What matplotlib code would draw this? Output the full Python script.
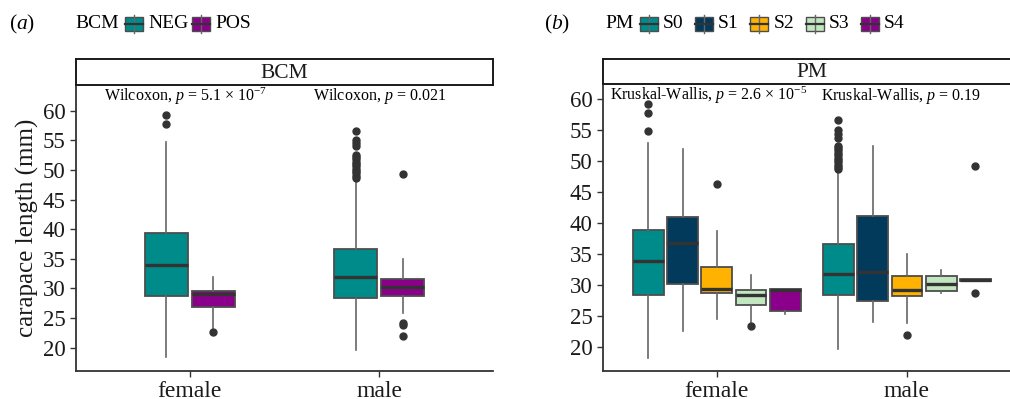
import matplotlib
matplotlib.use("Agg")
import matplotlib.pyplot as plt
from matplotlib.patches import Rectangle

plt.rcParams["font.family"] = ["Liberation Serif", "DejaVu Serif"]
plt.rcParams["mathtext.fontset"] = "custom"
plt.rcParams["mathtext.rm"] = "Liberation Serif"
plt.rcParams["mathtext.it"] = "Liberation Serif:italic"

W, H = 1010, 399

# ---------------- data ----------------
sexes = ["female", "male"]

bcm_levels = ["NEG", "POS"]
bcm_colors = ["#008b8b", "#8b008b"]
# [level][sex]
bcm_whislo = [[18.4, 19.6], [23.3, 25.8]]
bcm_q1 = [[28.7, 28.4], [26.8, 28.7]]
bcm_med = [[34.0, 31.9], [29.05, 30.2]]
bcm_q3 = [[39.3, 36.6], [29.5, 31.6]]
bcm_whishi = [[54.7, 48.5], [31.9, 35.0]]
bcm_fliers = [
    [[57.7, 59.3],
     [48.7, 49.0, 49.4, 49.8, 50.2, 50.6, 51.0, 51.4, 51.8, 52.2, 52.5, 54.1, 54.6, 55.1, 56.6]],
    [[22.7], [22.0, 23.8, 24.1, 49.3]],
]
bcm_tests = [r"Wilcoxon, $p$ = 5.1 × 10$^{-7}$", r"Wilcoxon, $p$ = 0.021"]

pm_levels = ["S0", "S1", "S2", "S3", "S4"]
pm_colors = ["#008b8b", "#023a5c", "#ffb300", "#c2e6c0", "#8b008b"]
pm_whislo = [[18.3, 19.7], [22.7, 24.1], [24.5, 23.9], [24.1, 28.7], [25.35, 30.9]]
pm_q1 = [[28.4, 28.4], [30.2, 27.5], [28.7, 28.3], [26.9, 29.1], [25.8, 30.75]]
pm_med = [[33.85, 31.8], [36.75, 32.2], [29.35, 29.2], [28.5, 30.2], [29.3, 30.9]]
pm_q3 = [[38.9, 36.6], [41.0, 41.25], [32.9, 31.55], [29.25, 31.55], [29.4, 31.0]]
pm_whishi = [[52.9, 48.5], [51.9, 52.5], [38.8, 35.0], [31.6, 32.4], [29.4, 31.0]]
pm_fliers = [
    [[54.8, 57.7, 59.3],
     [48.7, 49.0, 49.4, 49.8, 50.2, 50.6, 51.0, 51.4, 51.8, 52.2, 52.4, 53.8, 54.4, 55.1, 56.6]],
    [[], []],
    [[46.3], [22.0]],
    [[23.4], []],
    [[], [28.8, 49.3]],
]
pm_tests = [r"Kruskal-Wallis, $p$ = 2.6 × 10$^{-5}$", r"Kruskal-Wallis, $p$ = 0.19"]

yticks = [20, 25, 30, 35, 40, 45, 50, 55, 60]


def px_rect(x0, y0, x1, y1):
    return [x0 / W, 1 - y1 / H, (x1 - x0) / W, (y1 - y0) / H]


def draw_panel(ax, levels, colors, whislo, q1, med, q3, whishi, fliers, step, width):
    n = len(levels)
    for i in range(n):
        stats = []
        pos = []
        for j in range(len(sexes)):
            stats.append({"whislo": whislo[i][j], "q1": q1[i][j], "med": med[i][j],
                          "q3": q3[i][j], "whishi": whishi[i][j], "fliers": fliers[i][j]})
            pos.append(j + 1 + (i - (n - 1) / 2) * step)
        ax.bxp(stats, positions=pos, widths=width, patch_artist=True, showcaps=False,
               boxprops=dict(facecolor=colors[i], edgecolor="#4d4d4d", linewidth=1.3),
               medianprops=dict(color="#333333", linewidth=2.4),
               whiskerprops=dict(color="#666666", linewidth=1.2),
               flierprops=dict(marker="o", markersize=5, markerfacecolor="#333333",
                               markeredgecolor="#333333"),
               manage_ticks=False, zorder=2)
    ax.set_xlim(0.4, 2.6)
    ax.set_xticks([1, 2])
    ax.set_xticklabels(sexes, fontsize=17)
    ax.set_yticks(yticks)
    for s in ["top", "right"]:
        ax.spines[s].set_visible(False)
    for s in ["left", "bottom"]:
        ax.spines[s].set_color("#333333")
        ax.spines[s].set_linewidth(1.3)
    ax.tick_params(direction="out", length=4, width=1, color="#333333",
                   labelcolor="#1a1a1a")
    ax.tick_params(axis="y", labelsize=16.5)
    ax.set_facecolor("none")


def draw_strip(rect, label):
    sx = fig.add_axes(rect)
    sx.set_xticks([])
    sx.set_yticks([])
    for s in sx.spines.values():
        s.set_color("#1a1a1a")
        s.set_linewidth(1.4)
    sx.text(0.5, 0.45, label, ha="center", va="center", fontsize=15.5, color="#1a1a1a",
            transform=sx.transAxes)


def legend_key(lx, xc, yc, color):
    w, h = 18, 14
    lx.plot([xc, xc], [yc - h / 2 - 2, yc + h / 2 + 2], color="#666666", lw=1)
    lx.add_patch(Rectangle((xc - w / 2, yc - h / 2), w, h, facecolor=color,
                           edgecolor="#4d4d4d", lw=1))
    lx.plot([xc - w / 2, xc + w / 2], [yc, yc], color="#333333", lw=1.6)


fig = plt.figure(figsize=(W / 100, H / 100), dpi=100)

# left panel
ax1 = fig.add_axes(px_rect(76, 85, 493, 371))
draw_panel(ax1, bcm_levels, bcm_colors, bcm_whislo, bcm_q1, bcm_med, bcm_q3,
           bcm_whishi, bcm_fliers, step=0.25, width=0.227)
ax1.set_ylim(16.07, 64.33)
ax1.set_ylabel("carapace length (mm)", fontsize=18, color="#1a1a1a", labelpad=3)
ax1.text(0.975, 62.4, bcm_tests[0], ha="center", va="center", fontsize=11.5)
ax1.text(2.0, 62.4, bcm_tests[1], ha="center", va="center", fontsize=11.5)
draw_strip(px_rect(76, 59, 493, 85), "BCM")

# right panel
ax2 = fig.add_axes(px_rect(602.7, 84, 1021, 371))
draw_panel(ax2, pm_levels, pm_colors, pm_whislo, pm_q1, pm_med, pm_q3,
           pm_whishi, pm_fliers, step=0.18, width=0.162)
ax2.set_ylim(16.19, 62.45)
ax2.text(0.955, 60.55, pm_tests[0], ha="center", va="center", fontsize=11.5)
ax2.text(1.97, 60.55, pm_tests[1], ha="center", va="center", fontsize=11.5)
draw_strip(px_rect(602.7, 59.3, 1021, 84), "PM")

# legends on top
lx = fig.add_axes([0, 0, 1, 1])
lx.set_xlim(0, W)
lx.set_ylim(H, 0)
lx.axis("off")
yc = 24
lx.text(9, yc, r"($a$)", fontsize=15.5, va="center", ha="left")
lx.text(75, yc, "BCM", fontsize=14, va="center", ha="left")
key_x = [134, 201]
for i in range(len(bcm_levels)):
    legend_key(lx, key_x[i], yc, bcm_colors[i])
    lx.text(key_x[i] + 14, yc, bcm_levels[i], fontsize=14, va="center", ha="left")

lx.text(544, yc, r"($b$)", fontsize=15.5, va="center", ha="left")
lx.text(605, yc, "PM", fontsize=14, va="center", ha="left")
for i in range(len(pm_levels)):
    kx = 649 + i * 55.2
    legend_key(lx, kx, yc, pm_colors[i])
    lx.text(kx + 14, yc, pm_levels[i], fontsize=14, va="center", ha="left")

fig.savefig("out.png", dpi=100)
